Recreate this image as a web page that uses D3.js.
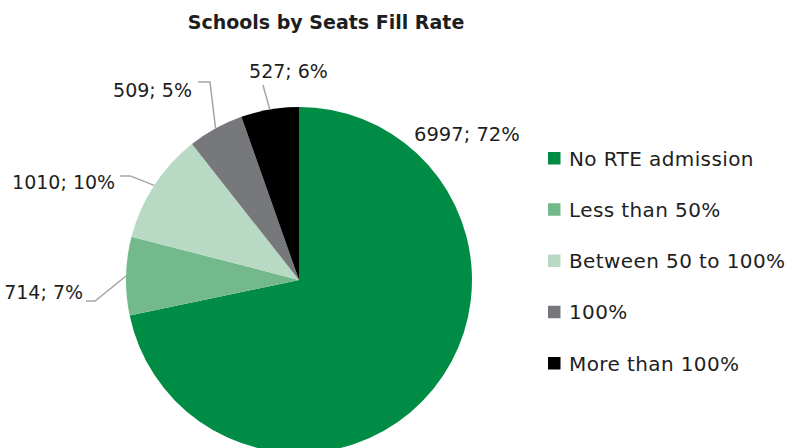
<!DOCTYPE html>
<html><head><meta charset="utf-8">
<script src="https://cdn.jsdelivr.net/npm/d3@7"></script>
<style>html,body{margin:0;padding:0;background:#fff;}svg{display:block;font-family:"DejaVu Sans",sans-serif;}</style>
</head><body><svg id="c" width="789" height="448"></svg>
<script>
const title = "Schools by Seats Fill Rate";
const categories = ["No RTE admission","Less than 50%","Between 50 to 100%","100%","More than 100%"];
const values = [6997, 714, 1010, 509, 527];
const percents = ["72%","7%","10%","5%","6%"];
const colors = ["#008c45","#74b98c","#b8d9c3","#77787b","#000000"];

const svg = d3.select("#c");
const cx = 299, cy = 280, r = 173;
const textColor = "#1e1e1e";

svg.append("text").attr("x",326).attr("y",29).attr("text-anchor","middle")
  .attr("font-size",19).attr("font-weight","bold").attr("fill",textColor).text(title);

const pie = d3.pie().sort(null).value(d=>d)(values);
const arc = d3.arc().innerRadius(0).outerRadius(r);
const g = svg.append("g").attr("transform",`translate(${cx},${cy})`);
g.selectAll("path").data(pie).join("path").attr("d",arc).attr("fill",(d,i)=>colors[i]);

// label layout (offsets relative to arc edge point at slice mid-angle)
const pt = d => { const a=(d.startAngle+d.endAngle)/2; return [cx + r*Math.sin(a), cy - r*Math.cos(a)]; };
const layout = [
  null,
  {elbow:[-31,25], end:[-40,25], tx:-43, ty:23, anchor:"end"},
  {elbow:[-24,-9.5], end:[-34,-9.5], tx:-39, ty:3.5, anchor:"end"},
  {elbow:[-5.6,-46.4], end:[-17.6,-46.4], tx:-23.6, ty:-31.4, anchor:"end"},
  {elbow:[-6.8,-24.5], end:[-6.8,-24.5], tx:18.7, ty:-31.5, anchor:"middle"}
];
const lg = svg.append("g");
pie.forEach((d,i)=>{
  const label = `${values[i]}; ${percents[i]}`;
  const L = layout[i];
  if(!L){
    svg.append("text").attr("x",414).attr("y",141).attr("font-size",19.5)
      .attr("fill",textColor).text(label);
    return;
  }
  const [px,py] = pt(d);
  lg.append("polyline")
    .attr("points",[[px,py],[px+L.elbow[0],py+L.elbow[1]],[px+L.end[0],py+L.end[1]]].map(p=>p.join(",")).join(" "))
    .attr("fill","none").attr("stroke","#a5a5a5").attr("stroke-width",1.5);
  svg.append("text").attr("x",px+L.tx).attr("y",py+L.ty).attr("text-anchor",L.anchor)
    .attr("font-size",19).attr("fill",textColor).text(label);
});

// legend
const y = d3.scalePoint().domain(categories).range([158,363]);
const leg = svg.append("g");
categories.forEach((c,i)=>{
  leg.append("rect").attr("x",548).attr("y",y(c)-6).attr("width",12.5).attr("height",12.5).attr("fill",colors[i]);
  leg.append("text").attr("x",569).attr("y",y(c)+7.5).attr("font-size",20).attr("letter-spacing",0.4)
    .attr("fill",textColor).text(c);
});
</script></body></html>
